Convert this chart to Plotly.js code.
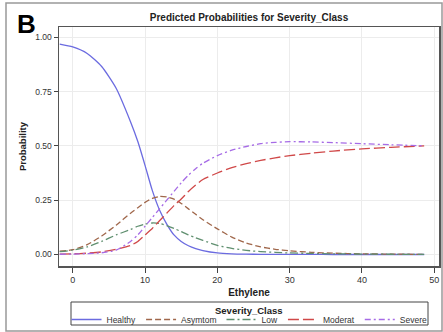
<!DOCTYPE html>
<html>
<head>
<meta charset="utf-8">
<script src="https://cdn.plot.ly/plotly-3.0.1.min.js"></script>
<style>
html,body{margin:0;padding:0;background:#fff;}
#chart{width:443px;height:332px;}
</style>
</head>
<body>
<div id="chart"></div>
<script>
// Ethylene values (x) at which predicted probabilities were read
var ethylene = [-1.8, 0, 2, 4, 6, 8, 9, 10, 11, 12, 13, 14, 15, 16, 17, 18, 20, 22, 24, 26, 28, 30, 33, 36, 40, 44, 48.6];

var healthy = [0.968, 0.955, 0.925, 0.865, 0.765, 0.61, 0.52, 0.41, 0.295, 0.205, 0.14, 0.09, 0.06, 0.04, 0.027, 0.018, 0.007, 0.003, 0.0015, 0.0008, 0.0004, 0.0002, 0.0001, 0, 0, 0, 0];
var asymtom = [0.015, 0.022, 0.045, 0.085, 0.135, 0.19, 0.215, 0.24, 0.258, 0.267, 0.265, 0.255, 0.235, 0.21, 0.185, 0.16, 0.118, 0.08, 0.053, 0.035, 0.024, 0.017, 0.01, 0.006, 0.003, 0.0015, 0.0006];
var low     = [0.013, 0.02, 0.035, 0.06, 0.09, 0.115, 0.13, 0.14, 0.145, 0.143, 0.133, 0.12, 0.105, 0.09, 0.077, 0.065, 0.042, 0.028, 0.019, 0.013, 0.01, 0.007, 0.005, 0.003, 0.002, 0.001, 0.0005];
var moderat = [0.002, 0.003, 0.006, 0.012, 0.024, 0.042, 0.06, 0.09, 0.12, 0.155, 0.19, 0.225, 0.255, 0.29, 0.32, 0.345, 0.375, 0.40, 0.418, 0.433, 0.445, 0.455, 0.466, 0.476, 0.486, 0.493, 0.50];
var severe  = [0.001, 0.002, 0.004, 0.008, 0.02, 0.06, 0.09, 0.13, 0.17, 0.21, 0.25, 0.29, 0.33, 0.365, 0.395, 0.42, 0.455, 0.48, 0.497, 0.51, 0.516, 0.519, 0.518, 0.515, 0.51, 0.505, 0.50];

var seriesNames = ["Healthy", "Asymtom", "Low", "Moderat", "Severe"];
var xTicks = [0, 10, 20, 30, 40, 50];
var yTicks = [0, 0.25, 0.5, 0.75, 1.0];

var F = "Liberation Sans, Arial, sans-serif";

function tr(y, name, color, dash) {
  return {x: ethylene, y: y, name: name, type: "scatter", mode: "lines",
    line: {color: color, width: 1.3, dash: dash, shape: "spline", smoothing: 0.6}};
}

var data = [
  tr(healthy, seriesNames[0], "#6b6be0", "solid"),
  tr(asymtom, seriesNames[1], "#a0674b", "6px,3px"),
  tr(low,     seriesNames[2], "#5f8f6f", "8px,3px,2px,3px"),
  tr(moderat, seriesNames[3], "#d04848", "11px,4px"),
  tr(severe,  seriesNames[4], "#a66be6", "6px,3px,2px,3px")
];

var L = 59, R = 439, T = 27, B = 266;
var W = R - L, H = B - T;
function px(x){ return (x - L) / W; }
function py(y){ return (B - y) / H; }

var layout = {
  width: 443, height: 332,
  margin: {l: L, r: 443 - R, t: T, b: 332 - B, pad: 0, autoexpand: false},
  paper_bgcolor: "#fff", plot_bgcolor: "#fff",
  font: {family: F, size: 9, color: "#333"},
  showlegend: true,
  xaxis: {
    range: [-1.9, 50.65], tickvals: xTicks, ticks: "outside", ticklen: 5, tickwidth: 1, tickcolor: "#444",
    showline: true, linecolor: "#555", linewidth: 1.5, mirror: true, automargin: false,
    showgrid: true, gridcolor: "#ececec", gridwidth: 1, zeroline: false,
    tickfont: {family: F, size: 9, color: "#333"},
    title: {text: "<b>Ethylene</b>", font: {family: F, size: 10, color: "#222"}, standoff: 4}
  },
  yaxis: {
    range: [-0.053, 1.047], tickvals: yTicks, tickformat: ".2f", ticks: "outside", ticklen: 4, tickwidth: 1, tickcolor: "#444",
    showline: true, linecolor: "#555", linewidth: 1.5, mirror: true, automargin: false,
    showgrid: true, gridcolor: "#ececec", gridwidth: 1, zeroline: false,
    tickfont: {family: F, size: 8.5, color: "#333"},
    title: {text: "<b>Probability</b>", font: {family: F, size: 9.5, color: "#222"}, standoff: 7}
  },
  legend: {
    orientation: "h", x: px(249.5), xanchor: "center", y: py(305), yanchor: "top",
    bgcolor: "rgba(0,0,0,0)", borderwidth: 0,
    font: {family: F, size: 8.5, color: "#333"},
    itemwidth: 30, traceorder: "normal"
  },
  title: {text: "<b>Predicted Probabilities for Severity_Class</b>", font: {family: F, size: 10, color: "#222"},
    x: 0.5, xref: "paper", xanchor: "center", y: 1 - 17/332, yanchor: "middle"},
  annotations: [
    {text: "<b>B</b>", xref: "paper", yref: "paper", x: px(15), y: py(24), xanchor: "left", yanchor: "middle",
     showarrow: false, font: {family: F, size: 26, color: "#000"}},
    {text: "<b>Severity_Class</b>", xref: "paper", yref: "paper", x: px(249.5), y: py(310.5), xanchor: "center", yanchor: "middle",
     showarrow: false, font: {family: F, size: 9.5, color: "#222"}}
  ],
  shapes: [
    {type: "rect", xref: "paper", yref: "paper", x0: px(6), x1: px(442), y0: py(3), y1: py(331),
     line: {color: "#999", width: 1.5}, layer: "below"},
    {type: "rect", xref: "paper", yref: "paper", x0: px(71), x1: px(428), y0: py(302), y1: py(325),
     line: {color: "#444", width: 1}, fillcolor: "rgba(0,0,0,0)", layer: "below"}
  ]
};

Plotly.newPlot("chart", data, layout, {displayModeBar: false, staticPlot: true});
</script>
</body>
</html>
